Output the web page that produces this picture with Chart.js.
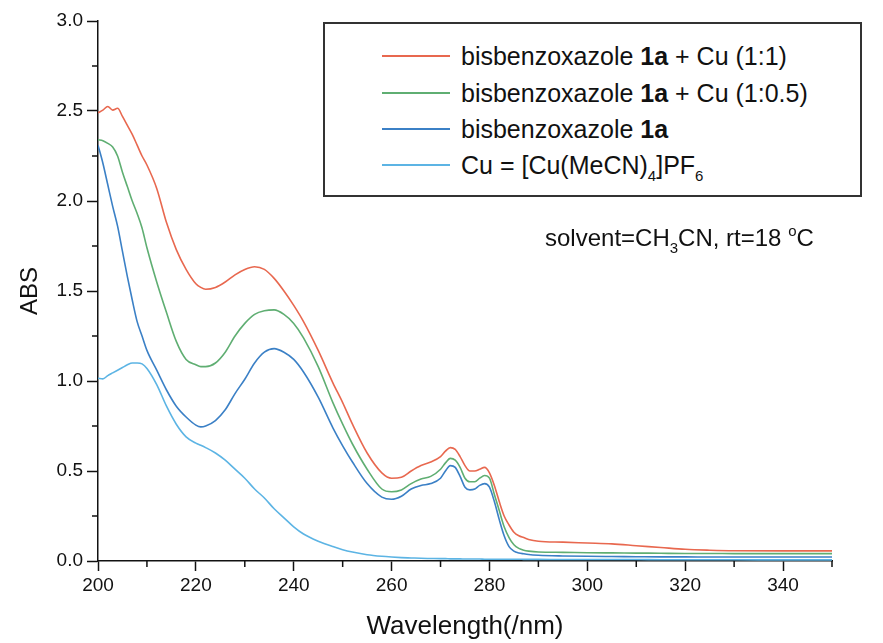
<!DOCTYPE html>
<html>
<head>
    <meta charset="utf-8">
    <title>Espectros UV - bisbenzoxazole 1a</title>
    <script src="https://cdn.jsdelivr.net/npm/chart.js"></script>
    <style>
        body { margin: 0; background: #fff; font-family: "Liberation Sans", Arial, sans-serif; }
        #contenedor { position: relative; width: 883px; height: 643px; }
        #leyenda { position: absolute; left: 323px; top: 22px; width: 539px; height: 175px;
                   border: 2px solid #333; box-sizing: border-box; background: #fff; }
        .fila { position: absolute; left: 57px; height: 30px; display: flex; align-items: center;
                font-size: 25px; color: #111; white-space: nowrap; }
        .muestra { display: inline-block; width: 68px; height: 2px; margin-right: 11px; }
        .fila sub, #nota sub { font-size: 15px; vertical-align: -7px; line-height: 0; }
        #nota { position: absolute; left: 545px; top: 224px; font-size: 24px; color: #111; white-space: nowrap; }
        #nota sup { font-size: 15px; vertical-align: 10px; line-height: 0; }
    </style>
</head>
<body>
    <div id="contenedor">
        <canvas id="espectro" width="883" height="643"></canvas>
        <div id="leyenda"></div>
        <div id="nota">solvent=CH<sub>3</sub>CN, rt=18 <sup>o</sup>C</div>
    </div>

    <script>
        // longitudes de onda (nm) comunes a todas las curvas
        const longitudes = [200, 201, 202, 203, 204, 205, 206, 207, 208, 209, 210, 212, 214, 216, 218, 220, 221, 222,
            224, 226, 228, 230, 232, 234, 236, 238, 240, 242, 245, 248, 250, 252, 255, 258, 260, 262, 264, 266, 268,
            270, 271, 272, 273, 274, 275, 276, 277, 278, 279, 280, 281, 282, 283, 284, 285, 286, 287, 288, 290, 295,
            300, 305, 310, 315, 320, 325, 330, 340, 350];

        // 1a + Cu (1:1)
        const absCu11 = [2.49, 2.505, 2.525, 2.505, 2.515, 2.47, 2.42, 2.37, 2.31, 2.25, 2.20, 2.07, 1.88, 1.73, 1.62, 1.54, 1.52, 1.51,
            1.52, 1.55, 1.59, 1.62, 1.635, 1.62, 1.57, 1.50, 1.42, 1.33, 1.17, 0.99, 0.88, 0.76, 0.60, 0.49, 0.46, 0.465, 0.50, 0.53, 0.55,
            0.58, 0.61, 0.63, 0.62, 0.58, 0.53, 0.50, 0.50, 0.51, 0.52, 0.49, 0.42, 0.33, 0.25, 0.20, 0.16, 0.14, 0.13, 0.12, 0.11, 0.105,
            0.10, 0.095, 0.085, 0.075, 0.065, 0.06, 0.057, 0.056, 0.056];

        // 1a + Cu (1:0.5)
        const absCu105 = [2.34, 2.335, 2.32, 2.30, 2.25, 2.16, 2.08, 2.00, 1.93, 1.85, 1.74, 1.55, 1.38, 1.22, 1.12, 1.09, 1.08, 1.08,
            1.10, 1.16, 1.25, 1.32, 1.37, 1.39, 1.395, 1.37, 1.32, 1.24, 1.08, 0.88, 0.76, 0.65, 0.51, 0.40, 0.385, 0.395, 0.43, 0.455, 0.47,
            0.51, 0.545, 0.57, 0.56, 0.52, 0.46, 0.44, 0.44, 0.46, 0.475, 0.46, 0.37, 0.28, 0.19, 0.13, 0.09, 0.07, 0.06, 0.055, 0.05, 0.048,
            0.046, 0.045, 0.044, 0.043, 0.042, 0.042, 0.041, 0.041, 0.041];

        // bisbenzoxazole 1a
        const abs1a = [2.31, 2.21, 2.09, 1.97, 1.86, 1.72, 1.58, 1.45, 1.33, 1.25, 1.17, 1.06, 0.95, 0.86, 0.80, 0.755, 0.745, 0.75,
            0.78, 0.84, 0.93, 1.01, 1.10, 1.16, 1.18, 1.16, 1.12, 1.05, 0.91, 0.74, 0.64, 0.55, 0.43, 0.355, 0.343, 0.36, 0.40, 0.42, 0.43,
            0.46, 0.50, 0.53, 0.52, 0.47, 0.41, 0.395, 0.40, 0.42, 0.43, 0.41, 0.33, 0.23, 0.14, 0.08, 0.055, 0.045, 0.04, 0.036, 0.032, 0.028,
            0.026, 0.025, 0.024, 0.023, 0.023, 0.022, 0.022, 0.022, 0.022];

        // Cu = [Cu(MeCN)4]PF6
        const absCu = [1.015, 1.012, 1.03, 1.045, 1.06, 1.075, 1.09, 1.10, 1.10, 1.095, 1.07, 0.98, 0.86, 0.76, 0.69, 0.655, 0.643, 0.63,
            0.60, 0.56, 0.51, 0.46, 0.40, 0.35, 0.29, 0.24, 0.19, 0.15, 0.11, 0.08, 0.063, 0.05, 0.035, 0.026, 0.022, 0.019, 0.017, 0.015, 0.014,
            0.013, 0.013, 0.012, 0.012, 0.012, 0.011, 0.011, 0.011, 0.011, 0.010, 0.010, 0.010, 0.010, 0.010, 0.010, 0.010, 0.010, 0.009, 0.009, 0.009, 0.008,
            0.008, 0.008, 0.008, 0.007, 0.007, 0.007, 0.007, 0.006, 0.006];

        const nombres = ['bisbenzoxazole 1a + Cu (1:1)', 'bisbenzoxazole 1a + Cu (1:0.5)', 'bisbenzoxazole 1a', 'Cu = [Cu(MeCN)4]PF6'];
        const nombresHtml = ['bisbenzoxazole <b>1a</b> + Cu (1:1)', 'bisbenzoxazole <b>1a</b> + Cu (1:0.5)',
            'bisbenzoxazole <b>1a</b>', 'Cu = [Cu(MeCN)<sub>4</sub>]PF<sub>6</sub>'];
        const colores = ['#e8684f', '#5fae72', '#3b80c6', '#5cb4e4'];
        const series = [absCu11, absCu105, abs1a, absCu];

        const ticksX = [200, 220, 240, 260, 280, 300, 320, 340];
        const ticksY = [0, 0.5, 1.0, 1.5, 2.0, 2.5, 3.0];

        function puntos(valores) {
            return longitudes.map((x, i) => ({ x: x, y: valores[i] }));
        }

        // marcas secundarias de los ejes
        const marcasMenores = {
            id: 'marcasMenores',
            afterDraw(chart) {
                const ctx = chart.ctx;
                const x = chart.scales.x;
                const y = chart.scales.y;
                ctx.save();
                ctx.strokeStyle = '#111';
                ctx.lineWidth = 1.5;
                ctx.beginPath();
                for (let v = 210; v <= 350; v += 20) {
                    const px = x.getPixelForValue(v);
                    ctx.moveTo(px, y.bottom);
                    ctx.lineTo(px, y.bottom + 6);
                }
                for (let v = 0.25; v < 3; v += 0.5) {
                    const py = y.getPixelForValue(v);
                    ctx.moveTo(x.left, py);
                    ctx.lineTo(x.left - 6, py);
                }
                ctx.stroke();
                ctx.restore();
            }
        };

        const ctxEspectro = document.getElementById('espectro').getContext('2d');
        const grafico = new Chart(ctxEspectro, {
            type: 'line',
            data: {
                datasets: series.map((s, i) => ({
                    label: nombres[i],
                    data: puntos(s),
                    borderColor: colores[i],
                    backgroundColor: colores[i],
                    borderWidth: 1.6,
                    pointRadius: 0,
                    fill: false,
                    cubicInterpolationMode: 'monotone'
                }))
            },
            options: {
                responsive: false,
                animation: false,
                layout: { padding: { top: 21, right: 51, bottom: 0, left: 0 } },
                plugins: {
                    legend: { display: false },
                    tooltip: { enabled: false }
                },
                scales: {
                    x: {
                        type: 'linear',
                        min: 200,
                        max: 350,
                        afterFit: scale => { scale.height = 82; },
                        afterBuildTicks: scale => { scale.ticks = ticksX.map(v => ({ value: v })); },
                        ticks: { color: '#111', font: { family: 'Liberation Sans', size: 19 }, padding: 3, maxRotation: 0 },
                        grid: { drawOnChartArea: false, drawTicks: true, tickLength: 10, tickColor: '#111', tickWidth: 1.5 },
                        border: { display: true, color: '#111', width: 1.5 },
                        title: { display: true, text: 'Wavelength(/nm)', color: '#111',
                                 font: { family: 'Liberation Sans', size: 26 }, padding: { top: 0, bottom: 1 } }
                    },
                    y: {
                        min: 0,
                        max: 3,
                        afterFit: scale => { scale.width = 98; },
                        afterBuildTicks: scale => { scale.ticks = ticksY.map(v => ({ value: v })); },
                        ticks: { color: '#111', font: { family: 'Liberation Sans', size: 19 }, padding: 4,
                                 callback: v => v.toFixed(1) },
                        grid: { drawOnChartArea: false, drawTicks: true, tickLength: 11, tickColor: '#111', tickWidth: 1.5 },
                        border: { display: true, color: '#111', width: 1.5 },
                        title: { display: true, text: 'ABS', color: '#111',
                                 font: { family: 'Liberation Sans', size: 24 }, padding: { top: 16, bottom: 0 } }
                    }
                }
            },
            plugins: [marcasMenores]
        });

        // leyenda en HTML a partir de los datasets
        const leyenda = document.getElementById('leyenda');
        const filasY = [17, 54, 90, 126];
        grafico.data.datasets.forEach((ds, i) => {
            const fila = document.createElement('div');
            fila.className = 'fila';
            fila.style.top = filasY[i] + 'px';
            const muestra = document.createElement('span');
            muestra.className = 'muestra';
            muestra.style.backgroundColor = ds.borderColor;
            const texto = document.createElement('span');
            texto.innerHTML = nombresHtml[i];
            fila.appendChild(muestra);
            fila.appendChild(texto);
            leyenda.appendChild(fila);
        });
    </script>
</body>
</html>
